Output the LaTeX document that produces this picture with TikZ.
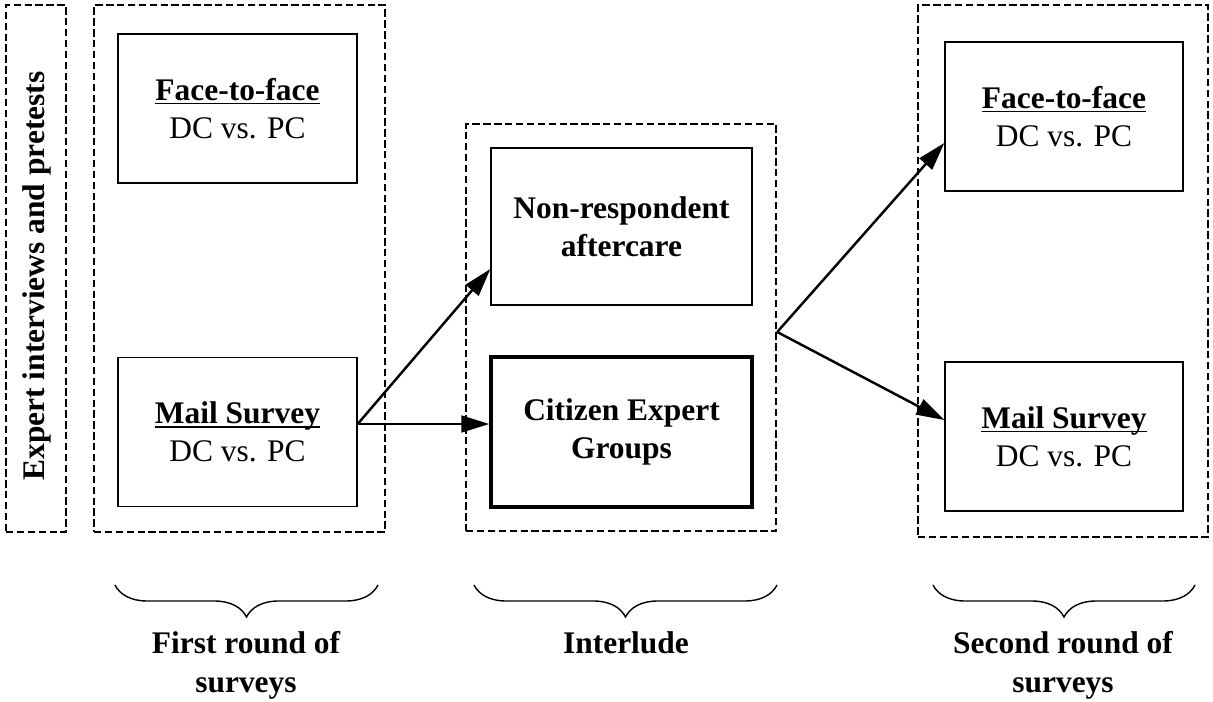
\documentclass[tikz,border=0pt]{standalone}
\usepackage{fontspec}
\setmainfont{Liberation Serif}
\usepackage{tikz}
\usetikzlibrary{arrows.meta,calc,decorations.pathreplacing}

\newsavebox{\ulbox}
\newcommand{\uline}[1]{\sbox{\ulbox}{#1}\rlap{\rule[-2.3pt]{\wd\ulbox}{0.9pt}}\usebox{\ulbox}}

\begin{document}
\fontsize{17.9}{21.6}\selectfont
\begin{tikzpicture}[x=0.02cm, y=-0.02cm]
  % Define styles
  \tikzstyle{survey} = [rectangle, draw, line width=0.8pt, align=center, minimum width=4.78cm, minimum height=2.98cm, inner sep=0pt]
  \tikzstyle{groupbox} = [rectangle, draw, dash pattern=on 4.2pt off 2pt, line width=1.4pt, inner sep=0pt]
  \tikzstyle{flow} = [line width=1.4pt, -{Triangle[length=16pt, width=9.5pt]}]
  \tikzstyle{bracket} = [decorate, decoration={brace, mirror, amplitude=0.64cm}, line width=0.8pt]
  \tikzstyle{caption} = [align=center, font=\bfseries\fontsize{17.9}{22.2}\selectfont, inner sep=0pt]

  \useasboundingbox (0,0) rectangle (1213,702);

  % Pretests
  \node [groupbox, minimum width=1.2cm, minimum height=10.54cm] (pretest) at (36,268.5) {};
  \node [rotate=90, font=\bfseries, inner sep=0pt] (pretesttext) at (37,276) {Expert interviews and pretests};

  % First round
  \node [groupbox, minimum width=5.82cm, minimum height=10.54cm] (round1) at (239.5,268.5) {};
  \node [survey] (face1) at (237.5,108.5) {\textbf{\uline{Face-to-face}}\\DC vs. PC};
  \node [survey] (mail1) at (237.5,432) {\textbf{\uline{Mail Survey}}\\DC vs. PC};

  % Interlude
  \node [groupbox, minimum width=6.2cm, minimum height=8.14cm] (interlude) at (621,327.5) {};
  \node [survey, font=\bfseries, minimum width=5.22cm, minimum height=3.14cm] (aftercare) at (621.5,226.5) {Non-respondent\\aftercare};
  \node [survey, font=\bfseries, line width=1.8pt, minimum width=5.22cm, minimum height=3cm] (citizen) at (621.5,432) {Citizen Expert\\Groups};

  % Second round
  \node [groupbox, minimum width=5.8cm, minimum height=10.64cm] (round2) at (1063,271) {};
  \node [survey, minimum width=4.76cm] (face2) at (1064,116.5) {\textbf{\uline{Face-to-face}}\\DC vs. PC};
  \node [survey, minimum width=4.76cm] (mail2) at (1064,436.5) {\textbf{\uline{Mail Survey}}\\DC vs. PC};

  % Flows
  \coordinate (split1) at ($(mail1.east)+(0,-8)$);
  \draw [flow] (split1) -- ($(aftercare.west)+(0,42.5)$);
  \draw [flow] (split1) -- (split1 -| citizen.west);
  \coordinate (split2) at ($(interlude.east)+(0,4.5)$);
  \draw [flow] (split2) -- ($(face2.west)+(0,26.5)$);
  \draw [flow] (split2) -- ($(mail2.west)+(0,-16.5)$);

  % Braces and captions
  \coordinate (b1l) at (115,585); \coordinate (b1r) at (378,585);
  \coordinate (b2l) at (474,585); \coordinate (b2r) at (777,585);
  \coordinate (b3l) at (933,585); \coordinate (b3r) at (1195,585);
  \draw [bracket] (b1l) -- (b1r);
  \draw [bracket] (b2l) -- (b2r);
  \draw [bracket] (b3l) -- (b3r);
  \node [caption, anchor=north] (first) at (246,631) {First round of\\surveys};
  \node [caption, anchor=north] (middle) at (626,631) {Interlude};
  \node [caption, anchor=north] (second) at (1063,631) {Second round of\\surveys};
\end{tikzpicture}
\end{document}
